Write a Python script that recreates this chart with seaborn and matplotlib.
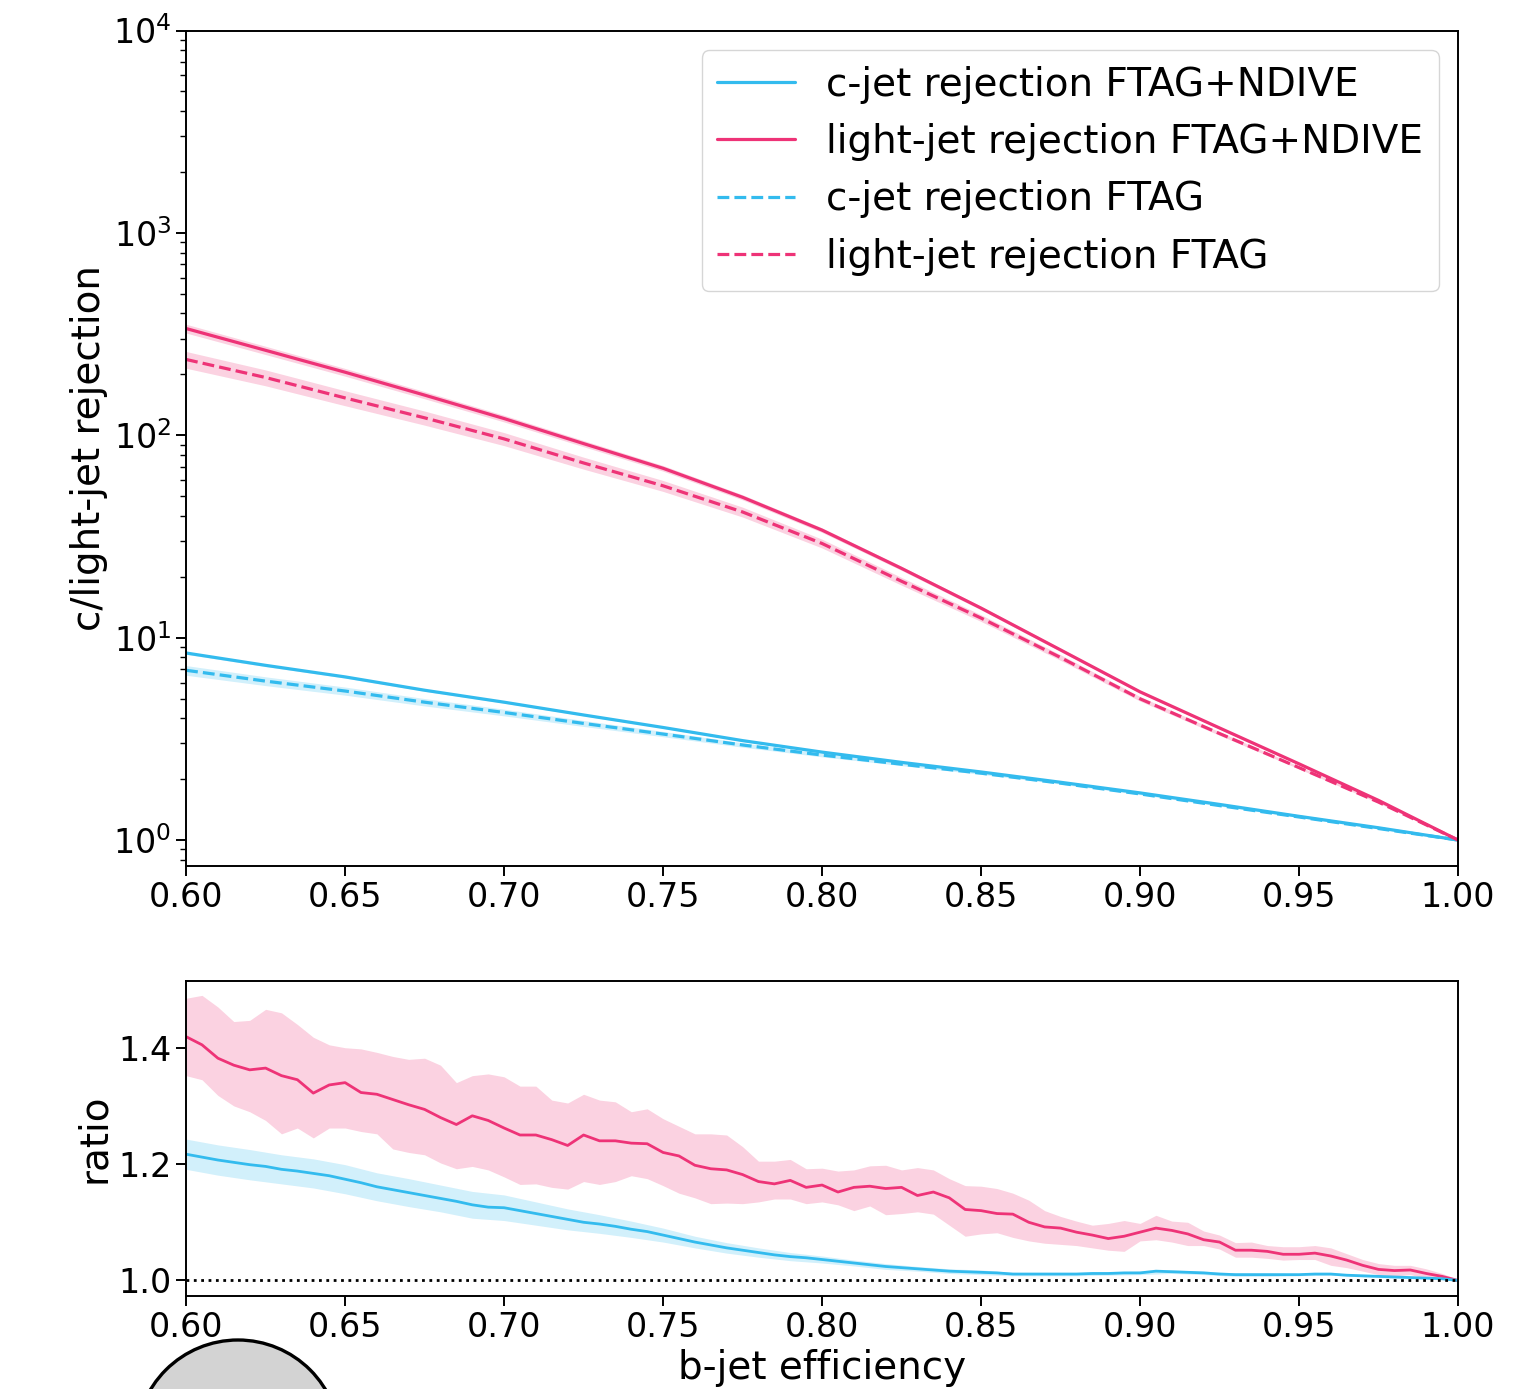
import numpy as np
import matplotlib
matplotlib.use("Agg")
import matplotlib.pyplot as plt
from matplotlib.patches import Ellipse
import seaborn as sns

# colours (Tol vibrant)
cyan = "#33BBEE"
pink = "#EE3377"

# top panel: rejection vs b-jet efficiency
eff_top = [0.600, 0.625, 0.650, 0.675, 0.700, 0.725, 0.750, 0.775, 0.800,
           0.825, 0.850, 0.875, 0.900, 0.925, 0.950, 0.975, 1.000]
light_ndive = [337, 263, 205, 158, 121, 91, 68.7, 49.4, 34, 22, 14, 8.7,
               5.4, 3.58, 2.38, 1.57, 1.0]
light_ftag = [237, 193, 153, 122, 96, 73, 56.3, 41.8, 29.2, 19.0, 12.5,
              7.98, 4.99, 3.36, 2.28, 1.54, 1.0]
c_ndive = [8.4, 7.3, 6.4, 5.5, 4.8, 4.15, 3.6, 3.1, 2.72, 2.42, 2.17, 1.93,
           1.71, 1.50, 1.31, 1.15, 1.0]
c_ftag = [6.90, 6.10, 5.45, 4.80, 4.27, 3.77, 3.34, 2.95, 2.63, 2.37, 2.14,
          1.91, 1.69, 1.48, 1.30, 1.14, 1.0]
# relative uncertainty of each curve
light_ndive_rel = [0.050, 0.047, 0.044, 0.041, 0.038, 0.035, 0.032, 0.029, 0.026,
                   0.023, 0.020, 0.018, 0.015, 0.013, 0.011, 0.008, 0.005]
light_ftag_rel = [0.095, 0.090, 0.085, 0.080, 0.074, 0.068, 0.062, 0.056, 0.050,
                  0.044, 0.038, 0.032, 0.026, 0.020, 0.015, 0.010, 0.005]
c_ndive_rel = [0.015, 0.014, 0.013, 0.012, 0.011, 0.010, 0.009, 0.008, 0.007,
               0.006, 0.005, 0.005, 0.004, 0.004, 0.003, 0.003, 0.002]
c_ftag_rel = [0.055, 0.050, 0.046, 0.042, 0.038, 0.034, 0.030, 0.025, 0.020,
              0.016, 0.013, 0.010, 0.008, 0.006, 0.005, 0.004, 0.003]

# bottom panel: ratio FTAG+NDIVE / FTAG
eff_ratio = np.round(np.linspace(0.6, 1.0, 81), 3)
light_ratio = [1.419, 1.405, 1.382, 1.370, 1.362, 1.365, 1.352, 1.345, 1.322, 1.336,
               1.340, 1.323, 1.320, 1.311, 1.302, 1.294, 1.280, 1.268, 1.283, 1.275,
               1.262, 1.250, 1.250, 1.242, 1.232, 1.250, 1.240, 1.240, 1.236, 1.235,
               1.220, 1.214, 1.198, 1.192, 1.190, 1.182, 1.170, 1.166, 1.172, 1.160,
               1.164, 1.152, 1.160, 1.162, 1.158, 1.160, 1.146, 1.152, 1.142, 1.122,
               1.120, 1.115, 1.114, 1.100, 1.092, 1.090, 1.083, 1.078, 1.072, 1.076,
               1.083, 1.090, 1.086, 1.080, 1.070, 1.066, 1.052, 1.052, 1.050, 1.045,
               1.045, 1.047, 1.042, 1.035, 1.026, 1.019, 1.017, 1.018, 1.012, 1.007,
               1.000]
light_ratio_hi = [1.485, 1.490, 1.470, 1.445, 1.447, 1.466, 1.460, 1.440, 1.418, 1.405,
                  1.400, 1.398, 1.392, 1.385, 1.380, 1.382, 1.370, 1.340, 1.352, 1.355,
                  1.350, 1.334, 1.334, 1.310, 1.305, 1.320, 1.310, 1.307, 1.290, 1.295,
                  1.278, 1.265, 1.252, 1.252, 1.250, 1.230, 1.205, 1.205, 1.208, 1.192,
                  1.193, 1.188, 1.190, 1.197, 1.198, 1.190, 1.194, 1.190, 1.175, 1.163,
                  1.162, 1.158, 1.150, 1.138, 1.120, 1.110, 1.102, 1.095, 1.098, 1.103,
                  1.098, 1.112, 1.102, 1.100, 1.085, 1.078, 1.065, 1.066, 1.060, 1.058,
                  1.058, 1.060, 1.056, 1.046, 1.036, 1.029, 1.026, 1.026, 1.020, 1.012,
                  1.002]
light_ratio_lo = [1.352, 1.345, 1.318, 1.300, 1.290, 1.275, 1.252, 1.262, 1.245, 1.262,
                  1.262, 1.256, 1.252, 1.226, 1.220, 1.216, 1.202, 1.192, 1.196, 1.190,
                  1.178, 1.165, 1.166, 1.160, 1.157, 1.170, 1.165, 1.170, 1.180, 1.175,
                  1.163, 1.150, 1.142, 1.132, 1.133, 1.132, 1.135, 1.140, 1.140, 1.132,
                  1.135, 1.130, 1.120, 1.128, 1.113, 1.115, 1.118, 1.114, 1.095, 1.076,
                  1.080, 1.082, 1.074, 1.068, 1.064, 1.062, 1.060, 1.056, 1.052, 1.050,
                  1.068, 1.070, 1.066, 1.060, 1.060, 1.054, 1.040, 1.040, 1.038, 1.035,
                  1.036, 1.036, 1.026, 1.022, 1.016, 1.010, 1.008, 1.010, 1.004, 1.002,
                  0.998]
c_ratio = [1.217, 1.212, 1.207, 1.203, 1.199, 1.196, 1.191, 1.188, 1.184, 1.180,
           1.174, 1.168, 1.161, 1.156, 1.151, 1.146, 1.141, 1.136, 1.130, 1.126,
           1.125, 1.120, 1.115, 1.110, 1.105, 1.100, 1.097, 1.093, 1.088, 1.084,
           1.078, 1.072, 1.066, 1.061, 1.056, 1.052, 1.048, 1.044, 1.041, 1.039,
           1.036, 1.033, 1.030, 1.027, 1.024, 1.022, 1.020, 1.018, 1.016, 1.015,
           1.014, 1.013, 1.011, 1.011, 1.011, 1.011, 1.011, 1.012, 1.012, 1.013,
           1.013, 1.016, 1.015, 1.014, 1.013, 1.011, 1.010, 1.010, 1.010, 1.010,
           1.010, 1.011, 1.011, 1.009, 1.008, 1.007, 1.006, 1.005, 1.004, 1.003,
           1.000]
# half width of the c-jet ratio band, every 0.01 in efficiency
c_ratio_err = [0.026, 0.026, 0.026, 0.025, 0.025, 0.025, 0.024, 0.024, 0.023, 0.023,
               0.022, 0.020, 0.018, 0.016, 0.014, 0.012, 0.010, 0.009, 0.008, 0.007,
               0.006, 0.005, 0.005, 0.004, 0.004, 0.004, 0.003, 0.003, 0.003, 0.003,
               0.003, 0.003, 0.003, 0.003, 0.003, 0.002, 0.002, 0.002, 0.002, 0.001,
               0.001]

xt = [0.60, 0.65, 0.70, 0.75, 0.80, 0.85, 0.90, 0.95, 1.00]
xt_labels = ["0.60", "0.65", "0.70", "0.75", "0.80", "0.85", "0.90", "0.95", "1.00"]

sns.set_style("ticks")
plt.rcParams["font.family"] = ["DejaVu Sans"]
plt.rcParams["font.size"] = 24
for k in ["axes.edgecolor", "text.color", "axes.labelcolor", "xtick.color", "ytick.color"]:
    plt.rcParams[k] = "black"
plt.rcParams["axes.linewidth"] = 1.4

fig = plt.figure(figsize=(15.38, 13.89), dpi=100)
ax1 = fig.add_axes([0.121, 0.3765, 0.827, 0.6015])
ax2 = fig.add_axes([0.121, 0.067, 0.827, 0.2267])

et = np.array(eff_top)
curves = [
    (c_ndive, c_ndive_rel, cyan, "-", "c-jet rejection FTAG+NDIVE"),
    (light_ndive, light_ndive_rel, pink, "-", "light-jet rejection FTAG+NDIVE"),
    (c_ftag, c_ftag_rel, cyan, "--", "c-jet rejection FTAG"),
    (light_ftag, light_ftag_rel, pink, "--", "light-jet rejection FTAG"),
]
for vals, rel, col, ls, lab in curves:
    v = np.array(vals)
    r = np.array(rel)
    ax1.fill_between(et, v * (1 - r), v * (1 + r), color=col, alpha=0.22, lw=0)
    sns.lineplot(x=et, y=v, ax=ax1, color=col, linestyle=ls, lw=2.3, label=lab)

ax1.set_yscale("log")
ax1.set_xlim(0.6, 1.0)
ax1.set_ylim(0.744, 1e4)
ax1.set_ylabel("c/light-jet rejection", fontsize=28)
ax1.set_xticks(xt)
ax1.set_xticklabels(xt_labels)
ax1.tick_params(axis="both", which="major", length=7, width=1.4, labelsize=24)
ax1.tick_params(axis="y", which="minor", length=4, width=1.0)
ax1.legend(loc="upper right", fontsize=28, handlelength=2.0)

# ratio panel
er = np.array(eff_ratio)
ax2.fill_between(er, light_ratio_lo, light_ratio_hi, color=pink, alpha=0.22, lw=0)
ec = er[::2]
cr = np.array(c_ratio)[::2]
ce = np.array(c_ratio_err)
ax2.fill_between(ec, cr - ce, cr + ce, color=cyan, alpha=0.22, lw=0)
sns.lineplot(x=er, y=light_ratio, ax=ax2, color=pink, lw=2.0)
sns.lineplot(x=er, y=c_ratio, ax=ax2, color=cyan, lw=2.0)
ax2.axhline(1.0, color="black", linestyle=":", lw=2.0)
ax2.set_xlim(0.6, 1.0)
ax2.set_yticks([1.0, 1.2, 1.4])
ax2.set_xticks(xt)
ax2.set_xticklabels(xt_labels)
ax2.tick_params(axis="both", which="major", length=7, width=1.4, labelsize=24)
ax2.set_ylabel("ratio", fontsize=28)
ax2.set_xlabel("b-jet efficiency", fontsize=28, labelpad=4)

# grey circle cut off at the bottom edge
fig.patches.append(Ellipse((238 / 1538, 1 - 1442 / 1389), 204 / 1538, 204 / 1389,
                           transform=fig.transFigure, facecolor="#d3d3d3",
                           edgecolor="black", lw=2.4, zorder=10))

fig.savefig("out.png", dpi=100)
